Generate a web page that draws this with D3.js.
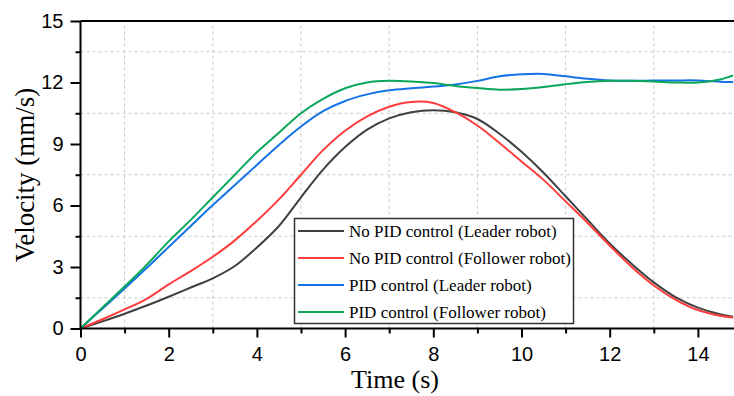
<!DOCTYPE html>
<html>
<head>
<meta charset="utf-8">
<script src="https://cdn.jsdelivr.net/npm/d3@7"></script>
<style>
  body { margin: 0; background: #fff; }
  svg { display: block; }
</style>
</head>
<body>
<svg width="734" height="396"></svg>
<script>
// time samples (s)
const time = [0, 0.5, 1, 1.5, 2, 2.5, 3, 3.5, 4, 4.5, 5, 5.5, 6, 6.5, 7, 7.5, 8, 8.5, 9, 9.5,
  10, 10.5, 11, 11.5, 12, 12.5, 13, 13.5, 14, 14.5, 14.8]

// velocity (mm/s)
const noPidLeader = [0, 0.35, 0.72, 1.12, 1.55, 2.0, 2.45, 3.05, 3.95, 5.0, 6.4, 7.75, 8.85, 9.7,
  10.25, 10.55, 10.65, 10.55, 10.22, 9.5, 8.62, 7.6, 6.45, 5.3, 4.15, 3.15, 2.25, 1.52, 1.02, 0.7, 0.57]
const noPidFollower = [0, 0.45, 0.93, 1.45, 2.15, 2.8, 3.5, 4.3, 5.25, 6.3, 7.5, 8.7, 9.65, 10.35,
  10.82, 11.05, 11.0, 10.55, 9.9, 9.05, 8.15, 7.25, 6.2, 5.15, 4.05, 3.0, 2.1, 1.4, 0.9, 0.62, 0.54]
const pidLeader = [0, 0.98, 1.95, 2.95, 3.98, 5.0, 6.02, 7.0, 7.98, 8.95, 9.85, 10.6, 11.1, 11.42,
  11.62, 11.72, 11.8, 11.9, 12.08, 12.3, 12.4, 12.42, 12.3, 12.18, 12.1, 12.08, 12.1, 12.1, 12.1, 12.04, 12.03]
const pidFollower = [0, 1.03, 2.05, 3.1, 4.25, 5.3, 6.4, 7.5, 8.6, 9.55, 10.5, 11.2, 11.72, 12.0,
  12.08, 12.05, 11.97, 11.83, 11.73, 11.65, 11.68, 11.78, 11.92, 12.03, 12.08, 12.08, 12.05, 12.0, 12.0, 12.15, 12.35]

const seriesNames = ['No PID control (Leader robot)', 'No PID control (Follower robot)',
  'PID control (Leader robot)', 'PID control (Follower robot)']
const seriesColors = ['#404040', '#ff3b3b', '#1673e6', '#0aa65a']
const seriesValues = [noPidLeader, noPidFollower, pidLeader, pidFollower]

const xMajor = [0, 2, 4, 6, 8, 10, 12, 14]
const xMinor = [1, 3, 5, 7, 9, 11, 13, 15]
const yMajor = [0, 3, 6, 9, 12, 15]
const yMinor = [1.5, 4.5, 7.5, 10.5, 13.5]

const svg = d3.select('svg')
const width = +svg.attr('width')

const x = d3.scaleLinear().domain([0, 15]).range([80.5, 742])
const y = d3.scaleLinear().domain([0, 15]).range([328.5, 21])

// dashed grid at the minor positions
const grid = svg.append('g')
  .attr('stroke', '#c8c8c8')
  .attr('stroke-width', 1)
  .attr('stroke-dasharray', '3,3')
grid.selectAll('.gx').data(xMinor).enter().append('line')
  .attr('x1', d => x(d)).attr('x2', d => x(d))
  .attr('y1', y(0)).attr('y2', y(15))
grid.selectAll('.gy').data(yMinor).enter().append('line')
  .attr('x1', x(0)).attr('x2', width)
  .attr('y1', d => y(d)).attr('y2', d => y(d))

// curves
const line = d3.line()
  .x((d, i) => x(time[i]))
  .y(d => y(d))
  .curve(d3.curveCatmullRom)

svg.append('g').selectAll('path').data(seriesValues).enter().append('path')
  .attr('d', d => line(d))
  .attr('fill', 'none')
  .attr('stroke', (d, i) => seriesColors[i])
  .attr('stroke-width', 2)

// axes
const styleAxis = g => {
  g.selectAll('.domain').remove()
  g.selectAll('line').attr('stroke', '#000').attr('stroke-width', 2)
  g.selectAll('text')
    .style('font-family', '"Liberation Sans", Arial, sans-serif')
    .style('font-size', '20px')
    .attr('fill', '#000')
}

svg.append('g').attr('transform', `translate(0,${y(0)})`)
  .call(d3.axisBottom(x).tickValues(xMinor).tickSize(5).tickFormat(''))
  .call(styleAxis)
svg.append('g').attr('transform', `translate(0,${y(0)})`)
  .call(d3.axisBottom(x).tickValues(xMajor).tickSize(9).tickPadding(9))
  .call(styleAxis)
svg.append('g').attr('transform', `translate(${x(0)},0)`)
  .call(d3.axisLeft(y).tickValues(yMinor).tickSize(5).tickFormat(''))
  .call(styleAxis)
svg.append('g').attr('transform', `translate(${x(0)},0)`)
  .call(d3.axisLeft(y).tickValues(yMajor).tickSize(10).tickPadding(7))
  .call(styleAxis)

// frame lines: left, bottom, top
const frame = svg.append('g').attr('stroke', '#000').attr('stroke-width', 2)
frame.append('line').attr('x1', x(0)).attr('x2', x(0)).attr('y1', y(15)).attr('y2', y(0))
frame.append('line').attr('x1', x(0)).attr('x2', width).attr('y1', y(0)).attr('y2', y(0))
frame.append('line').attr('x1', x(0)).attr('x2', width).attr('y1', y(15)).attr('y2', y(15))

// axis titles
svg.append('text')
  .attr('x', 395).attr('y', 388)
  .attr('text-anchor', 'middle')
  .style('font-family', '"Liberation Serif", "Times New Roman", serif')
  .style('font-size', '26px')
  .text('Time (s)')

svg.append('text')
  .attr('transform', 'translate(34,175) rotate(-90)')
  .attr('text-anchor', 'middle')
  .style('font-family', '"Liberation Serif", "Times New Roman", serif')
  .style('font-size', '27px')
  .text('Velocity (mm/s)')

// legend
const legend = svg.append('g')
legend.append('rect')
  .attr('x', 294.5).attr('y', 218.5)
  .attr('width', 279).attr('height', 105)
  .attr('fill', '#fff')
  .attr('stroke', '#333')
  .attr('stroke-width', 1.5)

const rowY = d3.scalePoint().domain(seriesNames).range([231, 312])
const item = legend.selectAll('.item').data(seriesNames).enter().append('g')
  .attr('transform', d => `translate(0,${rowY(d)})`)
item.append('line')
  .attr('x1', 298).attr('x2', 344)
  .attr('stroke', (d, i) => seriesColors[i])
  .attr('stroke-width', 2)
item.append('text')
  .attr('x', 349).attr('y', 6)
  .style('font-family', '"Liberation Serif", "Times New Roman", serif')
  .style('font-size', '17px')
  .text(d => d)
</script>
</body>
</html>
